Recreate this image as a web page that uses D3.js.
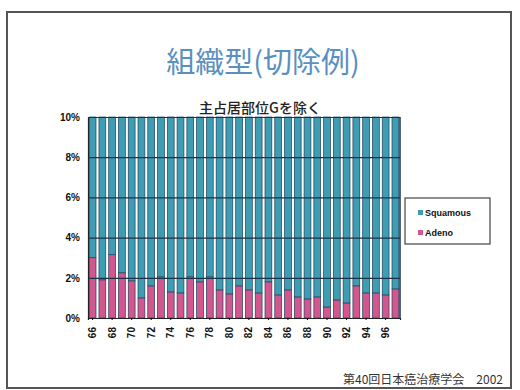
<!DOCTYPE html>
<html>
<head>
<meta charset="utf-8">
<script src="https://cdn.jsdelivr.net/npm/d3@7"></script>
<style>
  html, body { margin: 0; padding: 0; background: #fff; }
  svg { display: block; }
</style>
</head>
<body>
<script>
// years 1966-1997, shown as two digits
const years = ["66","67","68","69","70","71","72","73","74","75","76","77","78","79","80","81",
               "82","83","84","85","86","87","88","89","90","91","92","93","94","95","96","97"];
// share of each histology (%)
const adeno = [30, 19, 31.5, 22.5, 18.5, 10, 16, 20.5, 13, 12.5, 20.5, 18, 20.5, 14, 12, 16,
               14, 12.5, 18, 11.5, 14, 10.5, 9.5, 10.5, 5.5, 9, 7.5, 16, 12.5, 12.5, 11.5, 14.5];
const squamous = [70, 81, 68.5, 77.5, 81.5, 90, 84, 79.5, 87, 87.5, 79.5, 82, 79.5, 86, 88, 84,
                  86, 87.5, 82, 88.5, 86, 89.5, 90.5, 89.5, 94.5, 91, 92.5, 84, 87.5, 87.5, 88.5, 85.5];
const yTicks = [0, 20, 40, 60, 80, 100];
const yTickLabels = ["0%", "2%", "4%", "6%", "8%", "10%"];
const seriesNames = ["Squamous", "Adeno"];

const w = 520, h = 390;
const plotLeft = 88, plotRight = 400, plotTop = 117, plotBottom = 318;
const teal = "#3f9db3", pink = "#d2578e";

const svg = d3.select("body").append("svg")
  .attr("width", w)
  .attr("height", h);

// slide frame
svg.append("rect")
  .attr("x", 7).attr("y", 12)
  .attr("width", 504).attr("height", 376)
  .attr("fill", "#fff")
  .attr("stroke", "#555").attr("stroke-width", 2);

svg.append("text")
  .attr("x", 263).attr("y", 73)
  .attr("text-anchor", "middle")
  .attr("font-family", "Noto Sans CJK JP")
  .attr("font-size", 29)
  .attr("fill", "#5b8fc0")
  .text("組織型(切除例)");

svg.append("text")
  .attr("x", 260).attr("y", 113)
  .attr("text-anchor", "middle")
  .attr("font-family", "Noto Sans CJK JP")
  .attr("font-weight", 500)
  .attr("font-size", 14)
  .attr("fill", "#222")
  .text("主占居部位Gを除く");

const xScale = d3.scaleBand()
  .domain(years)
  .range([plotLeft, plotRight])
  .paddingInner(0.3)
  .paddingOuter(0.12);

const yScale = d3.scaleLinear()
  .domain([0, 100])
  .range([plotBottom, plotTop]);

const rows = years.map((y, i) => ({ year: y, Squamous: squamous[i], Adeno: adeno[i] }));
const stacked = d3.stack().keys(["Adeno", "Squamous"])(rows);
const colors = { Squamous: teal, Adeno: pink };

svg.append("g")
  .selectAll("g")
  .data(stacked)
  .enter()
  .append("g")
  .attr("fill", (d) => colors[d.key])
  .selectAll("rect")
  .data((d) => d)
  .enter()
  .append("rect")
  .attr("x", (d) => xScale(d.data.year))
  .attr("y", (d) => yScale(d[1]))
  .attr("width", xScale.bandwidth())
  .attr("height", (d) => yScale(d[0]) - yScale(d[1]))
  .attr("stroke", "#1f3f5a")
  .attr("stroke-width", 0.7);

// gridlines over the bars
const yAxis = d3.axisLeft(yScale)
  .tickValues(yTicks)
  .tickSize(-(plotRight - plotLeft))
  .tickFormat((d, i) => yTickLabels[i]);

const gy = svg.append("g")
  .attr("transform", "translate(" + plotLeft + ",0)")
  .call(yAxis);
gy.select(".domain").attr("stroke", "#222").attr("stroke-width", 1.2);
gy.selectAll(".tick line").attr("stroke", "#1d3346").attr("stroke-width", 1.2);
gy.selectAll(".tick text")
  .attr("x", -8)
  .attr("font-family", "Liberation Sans")
  .attr("font-weight", "bold")
  .attr("font-size", 10)
  .attr("fill", "#111");

// right edge of plot
svg.append("line")
  .attr("x1", plotRight).attr("x2", plotRight)
  .attr("y1", plotTop).attr("y2", plotBottom)
  .attr("stroke", "#1d3346").attr("stroke-width", 1.5);

const xAxis = d3.axisBottom(xScale)
  .tickValues(years.filter((d, i) => i % 2 === 0))
  .tickSize(2);

const gx = svg.append("g")
  .attr("transform", "translate(0," + plotBottom + ")")
  .call(xAxis);
gx.select(".domain").attr("stroke", "#222").attr("stroke-width", 1.2);
gx.selectAll(".tick text")
  .attr("transform", "rotate(-90)")
  .attr("x", -9).attr("y", 0).attr("dy", "0.35em")
  .attr("text-anchor", "end")
  .attr("font-family", "Liberation Sans")
  .attr("font-weight", "bold")
  .attr("font-size", 10)
  .attr("fill", "#111");

// legend
const legend = svg.append("g");
legend.append("rect")
  .attr("x", 405).attr("y", 198)
  .attr("width", 85).attr("height", 46)
  .attr("fill", "#fff")
  .attr("stroke", "#444").attr("stroke-width", 1.2);

legend.selectAll("g.item")
  .data(seriesNames)
  .enter()
  .append("g")
  .attr("class", "item")
  .attr("transform", (d, i) => "translate(418," + (213 + i * 20) + ")")
  .each(function (d) {
    const g = d3.select(this);
    g.append("rect")
      .attr("x", 0).attr("y", -3)
      .attr("width", 5).attr("height", 5)
      .attr("fill", colors[d]);
    g.append("text")
      .attr("x", 7).attr("y", 0).attr("dy", "0.35em")
      .attr("font-family", "Liberation Sans")
      .attr("font-weight", "bold")
      .attr("font-size", 9)
      .attr("fill", "#111")
      .text(d);
  });

svg.append("text")
  .attr("x", 503).attr("y", 384)
  .attr("text-anchor", "end")
  .attr("font-family", "Noto Sans CJK JP")
  .attr("font-size", 12)
  .attr("fill", "#333")
  .text("第40回日本癌治療学会　2002");
</script>
</body>
</html>
